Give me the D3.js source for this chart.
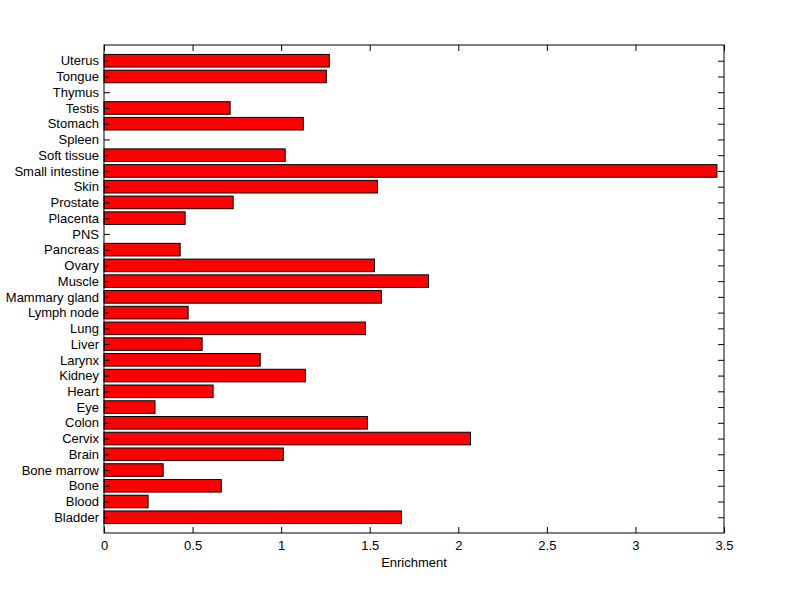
<!DOCTYPE html>
<html><head><meta charset="utf-8">
<script src="https://cdn.jsdelivr.net/npm/d3@7"></script>
<style>body{margin:0;background:#fff}svg{display:block}text{font-family:"Liberation Sans",Arial,sans-serif;font-size:13px;fill:#000}</style>
</head><body>
<svg id="c" width="800" height="599"></svg>
<script>
const categories = ["Bladder","Blood","Bone","Bone marrow","Brain","Cervix","Colon","Eye","Heart","Kidney","Larynx","Liver","Lung","Lymph node","Mammary gland","Muscle","Ovary","Pancreas","PNS","Placenta","Prostate","Skin","Small intestine","Soft tissue","Spleen","Stomach","Testis","Thymus","Tongue","Uterus"];
const values = [1.679,0.249,0.662,0.334,1.012,2.069,1.487,0.288,0.616,1.137,0.882,0.554,1.476,0.475,1.566,1.832,1.527,0.43,0,0.458,0.729,1.544,3.46,1.023,0,1.125,0.712,0,1.255,1.272];
const xTicks = [0,0.5,1,1.5,2,2.5,3,3.5];
const xLabel = "Enrichment";

const L=104, R=724, T=45, B=533;
const svg = d3.select("#c");
const x = d3.scaleLinear().domain([0,3.5]).range([L,R]);
const y = d3.scaleLinear().domain([0,31]).range([B,T]);
const bw = (y(0)-y(0.8));

svg.append("g").selectAll("rect").data(values).join("rect")
  .attr("x", x(0)).attr("y",(d,i)=>y(i+1)-bw/2)
  .attr("width",d=>Math.max(0,x(d)-x(0))).attr("height",bw)
  .attr("fill",d=>d>0?"#ff0000":"none").attr("stroke",d=>d>0?"#000":"none").attr("stroke-width",1);

const tl = 6;
const gb = svg.append("g").attr("transform",`translate(0,${B})`)
  .call(d3.axisBottom(x).tickValues(xTicks).tickFormat(d3.format("")).tickSizeInner(-tl).tickSizeOuter(0).tickPadding(8));
const gt = svg.append("g").attr("transform",`translate(0,${T})`)
  .call(d3.axisTop(x).tickValues(xTicks).tickFormat("").tickSizeInner(-tl).tickSizeOuter(0));
const idx = d3.range(1,31);
const gl = svg.append("g").attr("transform",`translate(${L},0)`)
  .call(d3.axisLeft(y).tickValues(idx).tickFormat(d=>categories[d-1]).tickSizeInner(-tl).tickSizeOuter(0).tickPadding(5));
const gr = svg.append("g").attr("transform",`translate(${R},0)`)
  .call(d3.axisRight(y).tickValues(idx).tickFormat("").tickSizeInner(-tl).tickSizeOuter(0));
[gb,gt,gl,gr].forEach(g=>{g.select(".domain").remove();g.selectAll("line").attr("stroke","#000");g.selectAll("text").attr("fill","#000");g.attr("font-size",null).attr("font-family",null);});
svg.append("rect").attr("x",L).attr("y",T).attr("width",R-L).attr("height",B-T).attr("fill","none").attr("stroke","#000");
svg.append("text").attr("x",(L+R)/2).attr("y",567).attr("text-anchor","middle").text(xLabel);
</script>
</body></html>
